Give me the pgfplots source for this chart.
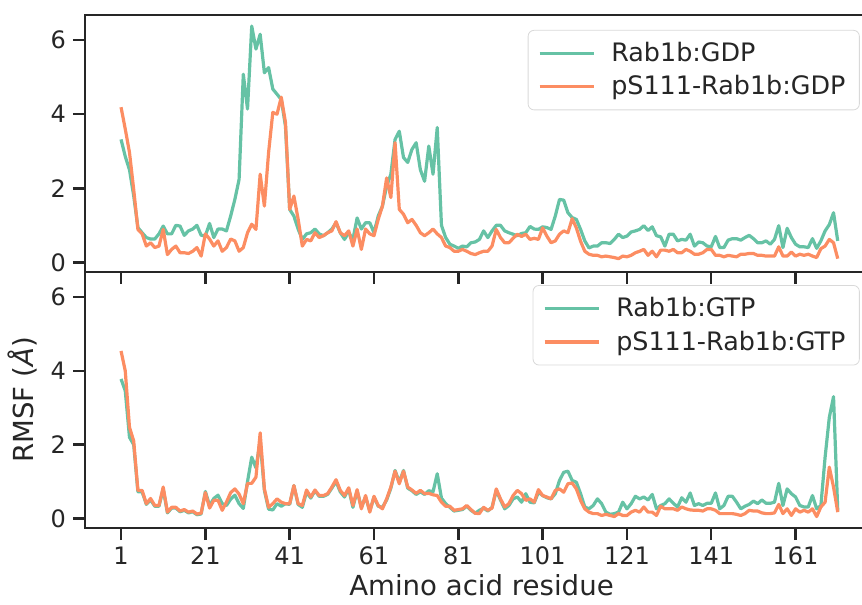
\documentclass[border=0pt]{standalone}
\usepackage{pgfplots}
\pgfplotsset{compat=1.18}
\usepackage{pgfplotstable}
\usepackage{fontspec}
\setmainfont{DejaVu Sans}
\definecolor{cg}{HTML}{66C2A5}
\definecolor{co}{HTML}{FC8D62}
\definecolor{tx}{HTML}{262626}

\pgfplotstableread{
r g o
1 3.32 4.19
2 2.86 3.60
3 2.50 2.97
4 1.80 1.97
5 0.94 0.89
6 0.80 0.77
7 0.67 0.44
8 0.63 0.53
9 0.63 0.40
10 0.77 0.44
11 0.98 0.89
12 0.77 0.21
13 0.77 0.35
14 1.00 0.44
15 0.98 0.26
16 0.73 0.26
17 0.85 0.24
18 0.90 0.30
19 1.00 0.40
20 0.73 0.17
21 0.72 0.77
22 1.05 0.63
23 0.67 0.44
24 0.90 0.58
25 0.90 0.30
26 0.85 0.40
27 1.25 0.63
28 1.70 0.58
29 2.24 0.30
30 5.08 0.40
31 4.14 0.80
32 6.38 1.03
33 5.76 0.89
34 6.16 2.38
35 5.12 1.52
36 5.26 2.97
37 4.68 4.05
38 4.54 4.00
39 4.40 4.46
40 3.68 3.78
41 1.43 1.43
42 1.25 1.79
43 0.90 1.17
44 0.62 0.44
45 0.77 0.62
46 0.80 0.58
47 0.90 0.80
48 0.77 0.67
49 0.72 0.72
50 0.80 0.80
51 0.90 0.85
52 1.07 1.10
53 0.80 0.80
54 0.62 0.72
55 0.80 0.85
56 0.62 0.44
57 1.20 0.90
58 0.90 0.35
59 1.07 0.90
60 1.07 0.77
61 0.80 0.72
62 1.25 1.16
63 1.52 1.52
64 2.06 2.28
65 2.38 1.75
66 3.32 3.23
67 3.54 1.43
68 2.83 1.30
69 2.70 1.07
70 3.05 1.16
71 3.23 1.00
72 2.50 0.80
73 2.19 0.72
74 3.14 0.80
75 2.38 0.90
76 3.64 0.77
77 1.00 0.67
78 0.67 0.44
79 0.49 0.40
80 0.44 0.30
81 0.38 0.30
82 0.44 0.35
83 0.42 0.30
84 0.53 0.24
85 0.55 0.21
86 0.62 0.26
87 0.85 0.30
88 0.67 0.30
89 0.85 0.44
90 1.00 0.89
91 1.00 0.67
92 0.85 0.53
93 0.80 0.53
94 0.76 0.65
95 0.72 0.76
96 0.78 0.70
97 0.80 0.76
98 0.97 0.62
99 0.90 0.65
100 0.89 0.62
101 0.96 0.93
102 0.94 0.71
103 0.89 0.53
104 1.25 0.58
105 1.70 0.76
106 1.68 0.85
107 1.34 0.80
108 1.21 1.18
109 1.16 0.93
110 0.89 0.57
111 0.58 0.30
112 0.39 0.22
113 0.44 0.19
114 0.44 0.19
115 0.53 0.15
116 0.53 0.17
117 0.51 0.15
118 0.62 0.13
119 0.76 0.10
120 0.67 0.17
121 0.71 0.15
122 0.82 0.19
123 0.85 0.26
124 0.89 0.30
125 0.99 0.35
126 0.86 0.19
127 0.96 0.30
128 0.72 0.15
129 0.69 0.33
130 0.44 0.33
131 0.76 0.30
132 0.76 0.35
133 0.58 0.26
134 0.62 0.26
135 0.60 0.35
136 0.76 0.30
137 0.44 0.22
138 0.55 0.22
139 0.53 0.26
140 0.44 0.35
141 0.42 0.35
142 0.70 0.19
143 0.40 0.19
144 0.40 0.15
145 0.60 0.19
146 0.64 0.17
147 0.64 0.15
148 0.60 0.22
149 0.67 0.22
150 0.73 0.24
151 0.64 0.24
152 0.53 0.19
153 0.53 0.19
154 0.58 0.17
155 0.49 0.17
156 0.62 0.17
157 0.99 0.42
158 0.40 0.17
159 0.92 0.17
160 0.67 0.28
161 0.49 0.17
162 0.42 0.22
163 0.42 0.19
164 0.40 0.22
165 0.64 0.17
166 0.38 0.13
167 0.58 0.37
168 0.85 0.44
169 1.02 0.62
170 1.34 0.53
171 0.58 0.10
}\tabup

\pgfplotstableread{
r g o
1 3.78 4.54
2 3.46 4.00
3 2.20 2.47
4 2.00 2.10
5 0.72 0.76
6 0.72 0.76
7 0.38 0.40
8 0.50 0.54
9 0.33 0.35
10 0.33 0.35
11 0.80 0.85
12 0.15 0.17
13 0.28 0.30
14 0.28 0.30
15 0.18 0.20
16 0.22 0.24
17 0.15 0.17
18 0.18 0.20
19 0.10 0.12
20 0.12 0.14
21 0.73 0.70
22 0.35 0.28
23 0.54 0.49
24 0.63 0.49
25 0.40 0.22
26 0.35 0.44
27 0.52 0.70
28 0.63 0.80
29 0.40 0.66
30 0.27 0.40
31 1.00 0.95
32 1.66 0.95
33 1.37 1.12
34 2.10 2.32
35 0.76 0.80
36 0.25 0.30
37 0.23 0.40
38 0.40 0.53
39 0.33 0.44
40 0.40 0.40
41 0.38 0.40
42 0.89 0.89
43 0.38 0.40
44 0.30 0.35
45 0.72 0.77
46 0.55 0.58
47 0.75 0.77
48 0.60 0.62
49 0.60 0.62
50 0.65 0.67
51 0.82 0.85
52 1.00 1.05
53 0.72 0.76
54 0.58 0.62
55 0.80 0.83
56 0.30 0.35
57 0.75 0.78
58 0.30 0.26
59 0.58 0.62
60 0.20 0.17
61 0.58 0.60
62 0.33 0.35
63 0.30 0.26
64 0.50 0.53
65 0.82 0.85
66 1.30 1.28
67 0.98 0.94
68 1.30 1.28
69 0.82 0.85
70 0.75 0.77
71 0.65 0.68
72 0.72 0.76
73 0.65 0.67
74 0.75 0.68
75 0.72 0.64
76 1.21 0.62
77 0.55 0.44
78 0.40 0.33
79 0.30 0.33
80 0.20 0.22
81 0.22 0.24
82 0.24 0.26
83 0.33 0.35
84 0.22 0.24
85 0.14 0.14
86 0.22 0.13
87 0.28 0.30
88 0.20 0.22
89 0.30 0.28
90 0.76 0.80
91 0.50 0.53
92 0.26 0.31
93 0.35 0.40
94 0.53 0.62
95 0.58 0.76
96 0.44 0.67
97 0.67 0.49
98 0.44 0.53
99 0.42 0.44
100 0.71 0.78
101 0.62 0.62
102 0.56 0.58
103 0.53 0.53
104 0.67 0.76
105 1.03 0.80
106 1.25 0.71
107 1.28 0.94
108 1.03 0.96
109 0.98 0.80
110 0.67 0.49
111 0.31 0.26
112 0.26 0.17
113 0.35 0.13
114 0.53 0.13
115 0.40 0.08
116 0.17 0.11
117 0.11 0.08
118 0.13 0.05
119 0.17 0.13
120 0.44 0.08
121 0.26 0.08
122 0.40 0.17
123 0.60 0.22
124 0.53 0.17
125 0.58 0.31
126 0.50 0.17
127 0.65 0.17
128 0.26 0.08
129 0.35 0.33
130 0.40 0.26
131 0.53 0.26
132 0.41 0.26
133 0.31 0.22
134 0.56 0.31
135 0.44 0.26
136 0.69 0.23
137 0.35 0.22
138 0.40 0.22
139 0.35 0.20
140 0.41 0.26
141 0.41 0.26
142 0.69 0.22
143 0.26 0.13
144 0.35 0.13
145 0.60 0.13
146 0.60 0.13
147 0.44 0.11
148 0.26 0.08
149 0.33 0.13
150 0.38 0.22
151 0.47 0.20
152 0.40 0.20
153 0.50 0.15
154 0.41 0.13
155 0.41 0.13
156 0.44 0.15
157 0.95 0.38
158 0.35 0.13
159 0.80 0.26
160 0.67 0.08
161 0.58 0.26
162 0.35 0.17
163 0.31 0.22
164 0.31 0.17
165 0.62 0.26
166 0.26 0.05
167 0.35 0.31
168 1.66 0.44
169 2.74 1.39
170 3.30 0.85
171 0.21 0.17
}\tabdn

\pgfplotsset{
  rmsf/.style={
    scale only axis,
    width=396.5pt,
    xmin=-7.55, xmax=180.55,
    ymin=-0.26, ymax=6.68,
    xtick={1,21,41,61,81,101,121,141,161},
    ytick={0,2,4,6},
    tick align=outside,
    major tick length=6pt,
    tick style={line width=1.2pt, color=tx},
    axis line style={line width=1.4pt, color=tx},
    ticklabel style={font=\fontsize{12}{14}\selectfont, text=tx},
    /pgf/number format/assume math mode=true,
    xtick pos=bottom, ytick pos=left,
    legend cell align=left,
    legend style={draw=black!15, rounded corners=3pt, fill=white,
      font=\fontsize{12.7}{15}\selectfont, text=tx,
      inner xsep=5pt, inner ysep=4pt, row sep=1.5pt,
      /tikz/every odd column/.append style={column sep=6pt}},
    legend image code/.code={\draw[#1] (0pt,0pt) -- (27pt,0pt);},
  },
  gline/.style={cg, line width=1.6pt, line join=round},
  oline/.style={co, line width=1.6pt, line join=round},
}

\begin{document}
\begin{tikzpicture}
\begin{axis}[rmsf,
  at={(42.5pt,166.5pt)}, anchor=south west, height=128.5pt,
  xticklabels={},
  legend style={at={(0.977,0.942)}, anchor=north east}]
\addplot[gline] table[x=r,y=g]{\tabup};
\addlegendentry{Rab1b:GDP}
\addplot[oline] table[x=r,y=o]{\tabup};
\addlegendentry{pS111-Rab1b:GDP}
\end{axis}
\begin{axis}[rmsf,
  at={(42.5pt,38.5pt)}, anchor=south west, height=128pt,
  xlabel={Amino acid residue},
  ylabel={RMSF (\textit{Å})},
  label style={font=\fontsize{13.8}{16}\selectfont, text=tx},
  xlabel style={yshift=2pt},
  legend style={at={(0.977,0.949)}, anchor=north east}]
\addplot[gline] table[x=r,y=g]{\tabdn};
\addlegendentry{Rab1b:GTP}
\addplot[oline] table[x=r,y=o]{\tabdn};
\addlegendentry{pS111-Rab1b:GTP}
\end{axis}
\pgfresetboundingbox
\path[use as bounding box] (0,0) rectangle (431pt,302.5pt);
\end{tikzpicture}
\end{document}
